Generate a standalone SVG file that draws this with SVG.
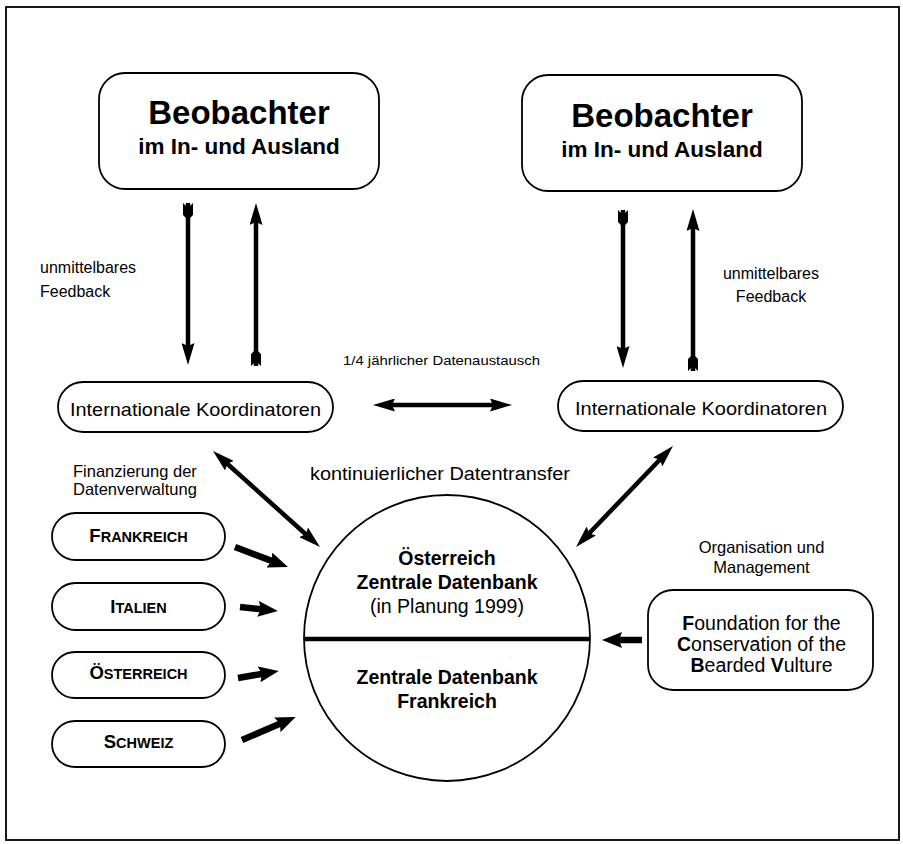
<svg xmlns="http://www.w3.org/2000/svg" width="903" height="844" viewBox="0 0 903 844">
<style>
text{font-family:"Liberation Sans",Arial,sans-serif;fill:#000}
.box{fill:#fff;stroke:#000;stroke-width:1.8}
.b{font-weight:bold}
.m{text-anchor:middle}
.dbl{stroke:#000;stroke-width:4.5;fill:none;marker-start:url(#head);marker-end:url(#head)}
.fl{stroke:#000;stroke-width:4.5;fill:none;marker-start:url(#tail);marker-end:url(#head)}
.fat{stroke:#000;stroke-width:6.5;fill:none;marker-end:url(#headL)}
</style>
<defs>
<marker id="head" viewBox="0 0 22 13" refX="4" refY="6.5" markerWidth="22" markerHeight="13" markerUnits="userSpaceOnUse" orient="auto-start-reverse">
<path d="M0,0 L22,6.5 L0,13 L3,6.5 z" fill="#000"/>
</marker>
<marker id="headL" viewBox="0 0 20 16" refX="4" refY="8" markerWidth="20" markerHeight="16" markerUnits="userSpaceOnUse" orient="auto">
<path d="M0,0 L20,8 L0,16 L3,8 z" fill="#000"/>
</marker>
<marker id="tail" viewBox="0 0 17 10" refX="0" refY="5" markerWidth="17" markerHeight="10" markerUnits="userSpaceOnUse" orient="auto">
<path d="M0,0 L12,0 L17,5 L12,10 L0,10 L5,5 z" fill="#000"/>
</marker>
</defs>

<rect x="6" y="7" width="893" height="833" fill="#fff" stroke="#000" stroke-width="1.8"/>

<g id="beobachter-links">
<rect class="box" x="99" y="73" width="280" height="116" rx="26"/>
<text class="b m" x="239" y="124" font-size="33">Beobachter</text>
<text class="b m" x="239" y="154" font-size="22.5">im In- und Ausland</text>
</g>
<g id="beobachter-rechts">
<rect class="box" x="522" y="75" width="280" height="116" rx="26"/>
<text class="b m" x="662" y="127" font-size="33">Beobachter</text>
<text class="b m" x="662" y="157" font-size="22.5">im In- und Ausland</text>
</g>

<g id="koordinatoren-links">
<rect class="box" x="58" y="382" width="275" height="50" rx="25"/>
<text class="m" x="195.5" y="416" font-size="19" textLength="251" lengthAdjust="spacingAndGlyphs">Internationale Koordinatoren</text>
</g>
<g id="koordinatoren-rechts">
<rect class="box" x="558" y="381" width="285" height="50" rx="25"/>
<text class="m" x="701" y="415" font-size="19" textLength="252" lengthAdjust="spacingAndGlyphs">Internationale Koordinatoren</text>
</g>

<g id="datenbank">
<circle cx="447" cy="638" r="143" fill="#fff" stroke="#000" stroke-width="1.8"/>
<line x1="304" y1="639" x2="590" y2="639" stroke="#000" stroke-width="4.5"/>
<text class="b m" x="447" y="565" font-size="19.5">Österreich</text>
<text class="b m" x="447" y="589" font-size="19.5">Zentrale Datenbank</text>
<text class="m" x="447" y="613" font-size="19.5">(in Planung 1999)</text>
<text class="b m" x="447" y="684" font-size="19.5">Zentrale Datenbank</text>
<text class="b m" x="447" y="708" font-size="19.5">Frankreich</text>
</g>

<g id="frankreich">
<rect class="box" x="52" y="513" width="173" height="47" rx="23.5"/>
<text class="b m" x="138.5" y="542" font-size="14.5"><tspan font-size="18.5">F</tspan>RANKREICH</text>
</g>
<g id="italien">
<rect class="box" x="52" y="583" width="173" height="47" rx="23.5"/>
<text class="b m" x="138.5" y="612.5" font-size="14.5"><tspan font-size="18.5">I</tspan>TALIEN</text>
</g>
<g id="oesterreich">
<rect class="box" x="52" y="652" width="173" height="46" rx="23"/>
<text class="b m" x="138.5" y="679" font-size="14.5"><tspan font-size="18.5">Ö</tspan>STERREICH</text>
</g>
<g id="schweiz">
<rect class="box" x="52" y="721" width="173" height="46" rx="23"/>
<text class="b m" x="138.5" y="748" font-size="14.5"><tspan font-size="18.5">S</tspan>CHWEIZ</text>
</g>

<g id="foundation">
<rect class="box" x="648" y="590" width="225" height="100" rx="25"/>
<text class="m" x="761.5" y="630" font-size="19.5"><tspan class="b">F</tspan>oundation for the</text>
<text class="m" x="761.5" y="651" font-size="19.5"><tspan class="b">C</tspan>onservation of the</text>
<text class="m" x="761.5" y="672" font-size="19.5"><tspan class="b">B</tspan>earded <tspan class="b">V</tspan>ulture</text>
</g>

<g id="labels">
<text x="40" y="273" font-size="16">unmittelbares</text>
<text x="40" y="297" font-size="16">Feedback</text>
<text class="m" x="771" y="279" font-size="16">unmittelbares</text>
<text class="m" x="771" y="302" font-size="16">Feedback</text>
<text class="m" x="441.5" y="365" font-size="13" textLength="197" lengthAdjust="spacingAndGlyphs">1/4 jährlicher Datenaustausch</text>
<text x="73" y="477" font-size="16.5">Finanzierung der</text>
<text x="73" y="495" font-size="16.5">Datenverwaltung</text>
<text x="310" y="480" font-size="18" textLength="260" lengthAdjust="spacingAndGlyphs">kontinuierlicher Datentransfer</text>
<text class="m" x="761.5" y="553" font-size="16.5">Organisation und</text>
<text class="m" x="761.5" y="573" font-size="16.5">Management</text>
</g>

<g id="connectors">
<line class="fl" x1="188" y1="203" x2="188" y2="347"/>
<line class="fl" x1="256" y1="366" x2="256" y2="221"/>
<line class="fl" x1="623" y1="210" x2="623" y2="350"/>
<line class="fl" x1="693" y1="371" x2="693" y2="227"/>
<line class="dbl" x1="391" y1="405" x2="494" y2="405"/>
<line class="dbl" x1="226.4" y1="463" x2="306.6" y2="535"/>
<line class="dbl" x1="660.5" y1="459" x2="588.5" y2="534"/>
<line class="fat" x1="235" y1="547" x2="273" y2="561.4"/>
<line class="fat" x1="240" y1="607" x2="262" y2="609.3"/>
<line class="fat" x1="238" y1="678" x2="263" y2="673.7"/>
<line class="fat" x1="242" y1="740" x2="281" y2="723.3"/>
<line class="fat" x1="642" y1="640" x2="618" y2="640"/>
</g>
</svg>
